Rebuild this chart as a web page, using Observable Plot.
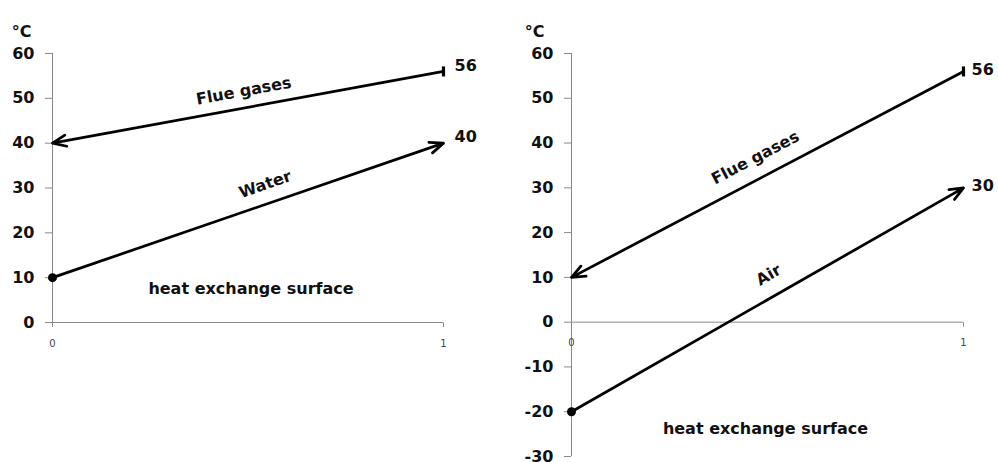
<!DOCTYPE html>
<html>
<head>
<meta charset="utf-8">
<script src="https://cdn.jsdelivr.net/npm/d3@7"></script>
<script src="https://cdn.jsdelivr.net/npm/@observablehq/plot@0.6"></script>
<style>
  html, body { margin: 0; padding: 0; background: #fff; }
  #wrap { position: relative; width: 998px; height: 462px; background: #fff; overflow: hidden; }
  .panel { position: absolute; top: 0; }
  .panel svg { overflow: visible; }
  .panel g[aria-label="y-axis tick label"] text { font-weight: bold; }
</style>
</head>
<body>
<div id="wrap">
  <div id="left" class="panel" style="left:0px"></div>
  <div id="right" class="panel" style="left:499px"></div>
</div>
<script>
// ---------- data ----------
const xTicks = [0, 1];
const yTicksLeft = [0, 10, 20, 30, 40, 50, 60];
const yTicksRight = [-30, -20, -10, 0, 10, 20, 30, 40, 50, 60];
const unitLabel = "°C";
const surfaceLabel = "heat exchange surface";

// Left panel: flue gases cooled by water (counter-flow)
const leftStreams = ["Flue gases", "Water"];
const leftFromX = [1, 0];
const leftFromT = [56, 10];
const leftToX = [0, 1];
const leftToT = [40, 40];

// Right panel: flue gases cooled by air (counter-flow)
const rightStreams = ["Flue gases", "Air"];
const rightFromX = [1, 0];
const rightFromT = [56, -20];
const rightToX = [0, 1];
const rightToT = [10, 30];

// ---------- layout / style ----------
const FONT = "DejaVu Sans";
const AXIS_GRAY = "#8a8a8a";
const INK = "#111";

const layouts = {
  left: {
    width: 499, height: 462,
    marginLeft: 52, marginRight: 56, marginTop: 53, marginBottom: 140,
    yDomain: [0, 60], yTicks: yTicksLeft,
    labelT: [0.489, 0.544], labelDy: [-17, -20],
    startMarker: ["bar", "dot"],
    endDx: 11, endDy: -6,
    surfaceDx: 3, surfaceDy: -29,
    unitDx: -31, unitDy: -28
  },
  right: {
    width: 499, height: 462,
    marginLeft: 72, marginRight: 35, marginTop: 53, marginBottom: 6,
    yDomain: [-30, 60], yTicks: yTicksRight,
    labelT: [0.469, 0.503], labelDy: [-23, -24],
    startMarker: ["bar", "dot"],
    endDx: 8, endDy: -2,
    surfaceDx: -2, surfaceDy: -23,
    unitDx: -37, unitDy: -28
  }
};

// custom symbols
const vbar = { draw(ctx, size) { const r = Math.sqrt(size / Math.PI); ctx.moveTo(0, -r); ctx.lineTo(0, r); } };
const vtickDown = { draw(ctx, size) { const r = Math.sqrt(size / Math.PI); ctx.moveTo(0, 0); ctx.lineTo(0, r); } };

function buildRows(names, fx, ft, tx, tt, L) {
  return names.map((name, i) => ({
    name, x1: fx[i], y1: ft[i], x2: tx[i], y2: tt[i], marker: L.startMarker[i],
    labelT: L.labelT[i], labelDy: L.labelDy[i]
  }));
}

function chart(rows, L) {
  const innerW = L.width - L.marginLeft - L.marginRight;
  const innerH = L.height - L.marginTop - L.marginBottom;
  const pxX = innerW / (xTicks[xTicks.length - 1] - xTicks[0]);
  const pxY = innerH / (L.yDomain[1] - L.yDomain[0]);
  const tempAt = (r, x) => r.y1 + (r.y2 - r.y1) * (x - r.x1) / (r.x2 - r.x1);
  const angle = (r) => -Math.atan(((r.y2 - r.y1) / (r.x2 - r.x1)) * pxY / pxX) * 180 / Math.PI;
  const xEnd = xTicks[xTicks.length - 1];

  return Plot.plot({
    width: L.width, height: L.height,
    marginLeft: L.marginLeft, marginRight: L.marginRight,
    marginTop: L.marginTop, marginBottom: L.marginBottom,
    style: { fontFamily: FONT, background: "transparent", overflow: "visible" },
    x: { domain: [xTicks[0], xEnd], axis: null },
    y: { domain: L.yDomain, axis: null },
    marks: [
      // axes lines
      Plot.ruleX([xTicks[0]], { stroke: AXIS_GRAY, strokeWidth: 1 }),
      Plot.ruleY([0], { stroke: AXIS_GRAY, strokeWidth: 1 }),
      Plot.axisY({ ticks: L.yTicks, tickSize: 7, tickPadding: 11, stroke: AXIS_GRAY, fill: INK,
                   tickFormat: d => String(d),
                   fontSize: 16, fontWeight: "bold", fontFamily: FONT, label: null }),
      // x ticks on zero line
      Plot.dot(xTicks, { x: d => d, y: () => 0, symbol: vtickDown, r: 4.5, stroke: AXIS_GRAY, strokeWidth: 1, fill: "none" }),
      Plot.text(xTicks, { x: d => d, y: () => 0, text: d => String(d), dy: 21, fontSize: 10, fill: "#444", fontFamily: FONT }),
      // unit label
      Plot.text([unitLabel], { frameAnchor: "top-left", text: d => d, dx: L.unitDx, dy: L.unitDy,
                               fontSize: 16, fontWeight: "bold", fill: INK, textAnchor: "middle" }),
      // streams
      Plot.arrow(rows, { x1: "x1", y1: "y1", x2: "x2", y2: "y2", stroke: "#000", strokeWidth: 2.75,
                         headLength: 8, headAngle: 45 }),
      Plot.dot(rows.filter(r => r.marker === "dot"), { x: "x1", y: "y1", r: 4.5, fill: "#000", stroke: "none" }),
      Plot.dot(rows.filter(r => r.marker === "bar"), { x: "x1", y: "y1", symbol: vbar, r: 5, stroke: "#000", strokeWidth: 3.2, fill: "none" }),
      // stream names along lines
      ...rows.map(r => Plot.text([r], {
        x: d => d.labelT, y: d => tempAt(d, d.labelT), text: "name", rotate: angle(r), dy: r.labelDy,
        fontSize: 16, fontWeight: "bold", fill: INK, textAnchor: "middle"
      })),
      // values at the x = 1 end
      Plot.text(rows, { x: () => xEnd, y: d => tempAt(d, xEnd), text: d => String(tempAt(d, xEnd)),
                        dx: L.endDx, dy: L.endDy, textAnchor: "start", fontSize: 16, fontWeight: "bold", fill: INK }),
      // surface label
      Plot.text([surfaceLabel], { frameAnchor: "bottom", text: d => d, dx: L.surfaceDx, dy: L.surfaceDy,
                                  fontSize: 16, fontWeight: "bold", fill: INK })
    ]
  });
}

const leftRows = buildRows(leftStreams, leftFromX, leftFromT, leftToX, leftToT, layouts.left);
const rightRows = buildRows(rightStreams, rightFromX, rightFromT, rightToX, rightToT, layouts.right);
document.getElementById("left").appendChild(chart(leftRows, layouts.left));
document.getElementById("right").appendChild(chart(rightRows, layouts.right));
</script>
</body>
</html>
